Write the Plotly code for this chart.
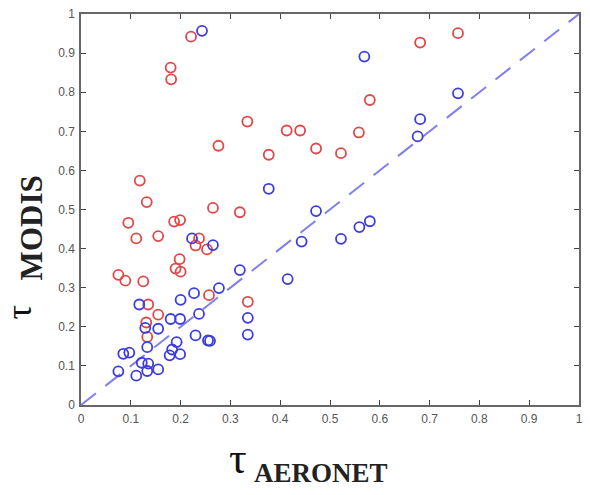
import plotly.graph_objects as go

# AERONET vs MODIS optical depth, two retrieval sets
red_aeronet = [0.132, 0.265, 0.319, 0.095, 0.187, 0.199, 0.111, 0.155, 0.237, 0.230,
               0.253, 0.075, 0.089, 0.125, 0.198, 0.190, 0.200, 0.257, 0.335, 0.135,
               0.155, 0.131, 0.133, 0.221, 0.180, 0.181, 0.334, 0.276, 0.377, 0.413,
               0.440, 0.472, 0.118, 0.522, 0.558, 0.580, 0.681, 0.757]
red_modis = [0.519, 0.504, 0.493, 0.466, 0.469, 0.473, 0.426, 0.432, 0.426, 0.408,
             0.398, 0.333, 0.318, 0.316, 0.373, 0.349, 0.341, 0.281, 0.264, 0.257,
             0.231, 0.211, 0.174, 0.942, 0.863, 0.833, 0.725, 0.663, 0.640, 0.702,
             0.702, 0.656, 0.574, 0.644, 0.697, 0.780, 0.927, 0.951]

blue_aeronet = [0.243, 0.377, 0.569, 0.757, 0.681, 0.676, 0.522, 0.559, 0.580, 0.472,
                0.443, 0.415, 0.319, 0.335, 0.335, 0.223, 0.265, 0.227, 0.277, 0.200,
                0.237, 0.117, 0.129, 0.180, 0.199, 0.155, 0.133, 0.192, 0.230, 0.255,
                0.259, 0.085, 0.097, 0.183, 0.178, 0.199, 0.122, 0.135, 0.133, 0.155,
                0.075, 0.111]
blue_modis = [0.957, 0.553, 0.891, 0.797, 0.731, 0.687, 0.425, 0.455, 0.470, 0.496,
              0.418, 0.322, 0.345, 0.223, 0.180, 0.426, 0.409, 0.286, 0.299, 0.269,
              0.233, 0.257, 0.197, 0.220, 0.220, 0.195, 0.148, 0.161, 0.178, 0.165,
              0.164, 0.131, 0.134, 0.142, 0.127, 0.130, 0.108, 0.106, 0.087, 0.091,
              0.086, 0.075]

one_to_one = [0, 1]
tick_vals = [0, 0.1, 0.2, 0.3, 0.4, 0.5, 0.6, 0.7, 0.8, 0.9, 1]
tick_text = ["0", "0.1", "0.2", "0.3", "0.4", "0.5", "0.6", "0.7", "0.8", "0.9", "1"]

fig = go.Figure()
fig.add_trace(go.Scatter(
    x=one_to_one, y=one_to_one, mode="lines",
    line=dict(color="rgba(95,95,235,0.8)", width=2, dash="19px,12px"),
    hoverinfo="skip", showlegend=False))
fig.add_trace(go.Scatter(
    x=red_aeronet, y=red_modis, mode="markers",
    marker=dict(symbol="circle-open", size=10, color="#e04848", line=dict(width=1.8)),
    showlegend=False))
fig.add_trace(go.Scatter(
    x=blue_aeronet, y=blue_modis, mode="markers",
    marker=dict(symbol="circle-open", size=10, color="#3c3ce0", line=dict(width=1.8)),
    showlegend=False))

axis_common = dict(
    range=[0, 1], tickvals=tick_vals, ticktext=tick_text,
    ticks="inside", ticklen=5, tickcolor="#444", tickwidth=1,
    showline=True, linecolor="#666", linewidth=1.5, mirror="ticks",
    showgrid=False, zeroline=False,
    tickfont=dict(family="Liberation Sans, Arial", size=12, color="#555"),
)

serif = "Liberation Serif, DejaVu Serif"
sub_font = dict(family=serif, size=27, color="#222")

fig.update_layout(
    width=590, height=495,
    margin=dict(l=81, r=7, t=13, b=90),
    paper_bgcolor="white", plot_bgcolor="white",
    xaxis=dict(**axis_common, ticklabelstandoff=2),
    yaxis=dict(**axis_common, ticklabelstandoff=2),
    annotations=[
        # x-axis title: τ with the AERONET subscript
        dict(xref="paper", yref="paper", x=0.315, y=-0.138, xanchor="center", yanchor="middle",
             showarrow=False, text="τ", font=dict(family=serif, size=44, color="#111")),
        dict(xref="paper", yref="paper", x=0.343, y=-0.174, xanchor="left", yanchor="middle",
             showarrow=False, text="<b>AERONET</b>", font=sub_font),
        # y-axis title: τ with the MODIS subscript, rotated
        dict(xref="paper", yref="paper", x=-0.124, y=0.237, xanchor="center", yanchor="middle",
             showarrow=False, textangle=-90, text="τ", borderpad=0,
             font=dict(family=serif, size=36, color="#111")),
        dict(xref="paper", yref="paper", x=-0.0986, y=0.454, xanchor="center", yanchor="middle",
             showarrow=False, textangle=-90, text="<b>MODIS</b>",
             font=dict(family=serif, size=31, color="#222")),
    ],
)

fig.write_html("out.html")
